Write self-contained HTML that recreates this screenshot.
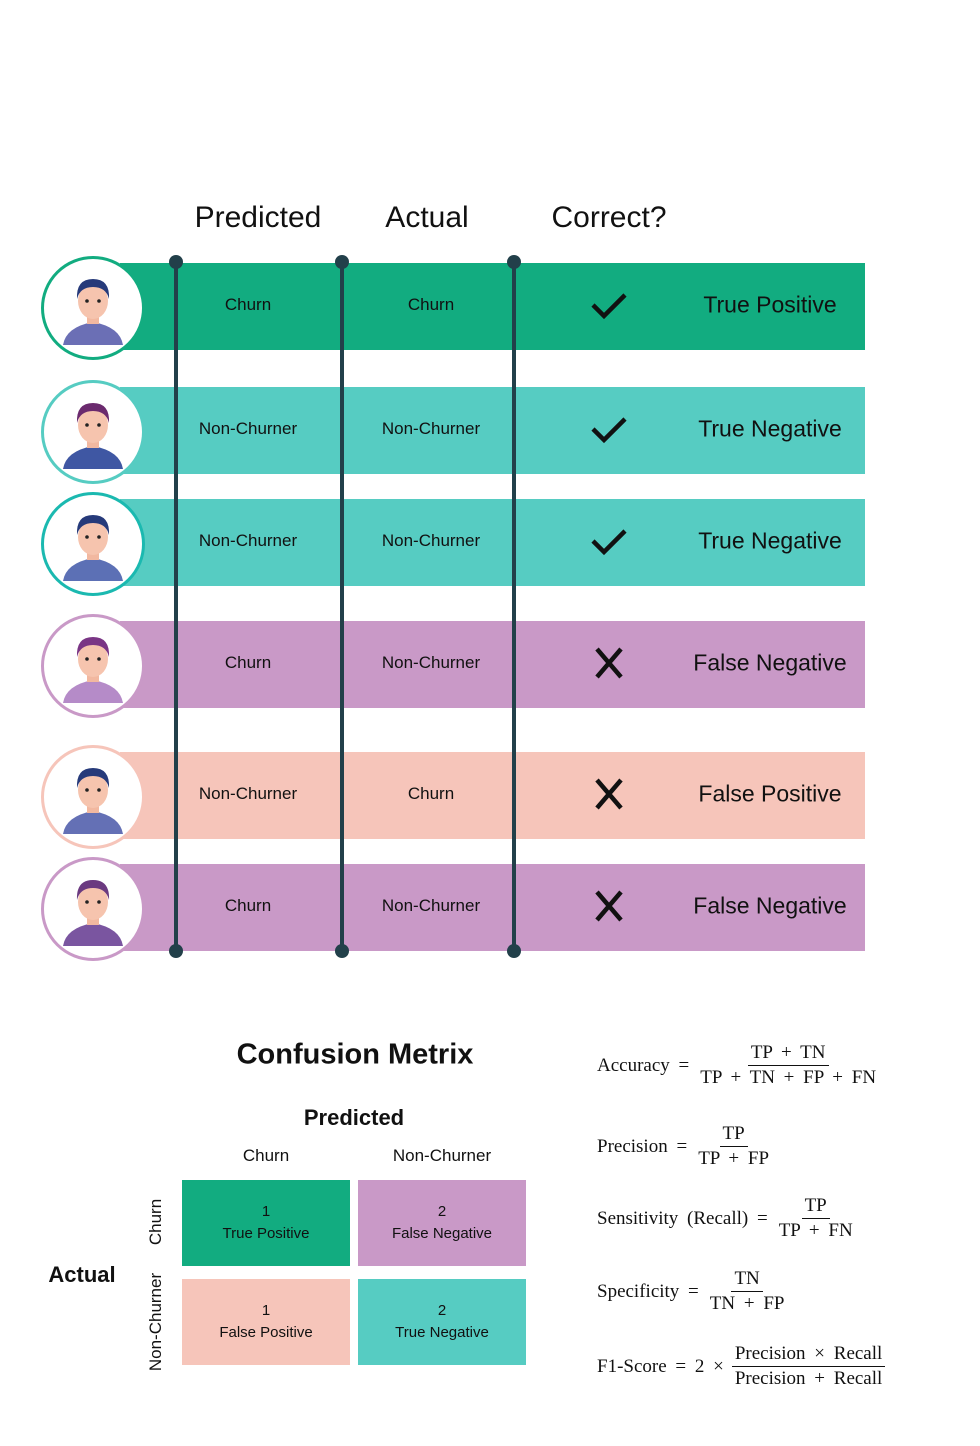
<!DOCTYPE html>
<html><head><meta charset="utf-8">
<style>
body{margin:0;background:#fff;}
#root{position:relative;width:980px;height:1446px;overflow:hidden;font-family:"Liberation Sans","DejaVu Sans",sans-serif;color:#111;}
.abs{position:absolute;}
.ctr{transform:translate(-50%,-50%);white-space:nowrap;}
.f{position:absolute;font-family:"Liberation Serif",serif;font-size:19px;color:#111;display:flex;align-items:center;white-space:nowrap;word-spacing:4px;}
.frac{display:inline-flex;flex-direction:column;align-items:center;margin-left:8px;}
.frac .n{padding:0 3px 1px;border-bottom:1.2px solid #111;}
.frac .d{padding:1px 3px 0;}
</style></head><body>
<div id="root">
<div class="abs ctr" style="left:258px;top:218px;font-size:30px;">Predicted</div>
<div class="abs ctr" style="left:427px;top:218px;font-size:30px;">Actual</div>
<div class="abs ctr" style="left:609px;top:218px;font-size:30px;">Correct?</div>
<div id="rows"></div>
<svg id="lines" class="abs" style="left:0;top:0;" width="980" height="1000"></svg>

<div class="abs ctr" style="left:355px;top:1055px;font-size:29px;font-weight:bold;">Confusion Metrix</div>
<div class="abs ctr" style="left:354px;top:1118px;font-size:22px;font-weight:bold;">Predicted</div>
<div class="abs ctr" style="left:266px;top:1156px;font-size:17px;">Churn</div>
<div class="abs ctr" style="left:442px;top:1156px;font-size:17px;">Non-Churner</div>
<div class="abs ctr" style="left:82px;top:1275px;font-size:22px;font-weight:bold;">Actual</div>
<div class="abs ctr" style="left:156px;top:1222px;font-size:17px;transform:translate(-50%,-50%) rotate(-90deg);">Churn</div>
<div class="abs ctr" style="left:156px;top:1322px;font-size:17px;transform:translate(-50%,-50%) rotate(-90deg);">Non-Churner</div>
<div id="cells"></div>

<div class="f" style="left:597px;top:1042px;">Accuracy =<span class="frac"><span class="n">TP + TN</span><span class="d">TP + TN + FP + FN</span></span></div>
<div class="f" style="left:597px;top:1123px;">Precision =<span class="frac"><span class="n">TP</span><span class="d">TP + FP</span></span></div>
<div class="f" style="left:597px;top:1195px;">Sensitivity (Recall) =<span class="frac"><span class="n">TP</span><span class="d">TP + FN</span></span></div>
<div class="f" style="left:597px;top:1268px;">Specificity =<span class="frac"><span class="n">TN</span><span class="d">TN + FP</span></span></div>
<div class="f" style="left:597px;top:1343px;">F1-Score = 2 ×<span class="frac"><span class="n">Precision × Recall</span><span class="d">Precision + Recall</span></span></div>
</div>
<script>
const predicted=["Churn","Non-Churner","Non-Churner","Churn","Non-Churner","Churn"];
const actual=["Churn","Non-Churner","Non-Churner","Non-Churner","Churn","Non-Churner"];
const outcome=["True Positive","True Negative","True Negative","False Negative","False Positive","False Negative"];
const rowTops=[263,387,499,621,752,864];
const colors={"True Positive":"#12ac80","True Negative":"#56ccc2","False Negative":"#c999c7","False Positive":"#f6c5ba"};
const ring={"True Positive":"#12ac80","True Negative":"#56ccc2","False Negative":"#c999c7","False Positive":"#f6c5ba"};
const hair=["#263a7a","#6b2a6e","#263a7a","#7a3585","#263a7a","#6b3a80"];
const shirt=["#6b6fb5","#3f57a3","#5c70b5","#b58bc8","#6470b5","#7a55a0"];
const rows=document.getElementById('rows');
for(let i=0;i<predicted.length;i++){
  const t=rowTops[i],c=colors[outcome[i]],cy=t+42;
  const band=document.createElement('div');
  band.className='abs';band.style.cssText=`left:120px;top:${t}px;width:745px;height:87px;background:${c};`;
  
  
  rows.appendChild(band);
  const av=document.createElement('div');
  av.className='abs';
  av.style.cssText=`left:41px;top:${t-7}px;width:98px;height:98px;border:3px solid ${i==2?'#1bb9b0':ring[outcome[i]]};border-radius:50%;background:#fff;`;
  av.innerHTML=`<svg width="98" height="98" viewBox="0 0 98 98"><path d="M19 86 Q22 68 49 63 Q76 68 79 86 Z" fill="${shirt[i]}"/><rect x="43" y="53" width="12" height="12" fill="#f2b8a0"/><ellipse cx="49" cy="42" rx="15" ry="18" fill="#f6c4ae"/><path d="M33 40 Q32 20 49 20 Q66 20 65 40 Q62 28 49 28 Q36 28 33 40 Z" fill="${hair[i]}"/><circle cx="43" cy="42" r="1.8" fill="#222"/><circle cx="55" cy="42" r="1.8" fill="#222"/></svg>`;
  
  
  rows.appendChild(av);
  const mk=(x,txt,size,name)=>{const d=document.createElement('div');d.className='abs ctr';d.style.cssText=`left:${x}px;top:${cy}px;font-size:${size}px;`;d.textContent=txt;
    
    
    rows.appendChild(d);};
  mk(248,predicted[i],17,'predicted-value');
  mk(431,actual[i],17,'actual-value');
  mk(770,outcome[i],23,'outcome-label');
  const ok=predicted[i]===actual[i];
  const ic=document.createElement('div');ic.className='abs';ic.style.cssText=`left:589px;top:${cy-20}px;`;
  ic.innerHTML=ok?'<svg width="40" height="40"><path d="M4 20 L15 31 L36 10" stroke="#111" stroke-width="4.5" fill="none"/></svg>':'<svg width="40" height="40"><path d="M8 6 L32 34 M32 6 L8 34" stroke="#111" stroke-width="4.5"/></svg>';
  
  
  rows.appendChild(ic);
}
const lineX=[176,342,514];
const svg=document.getElementById('lines');let s='';
for(const x of lineX){s+=`<line x1="${x}" y1="262" x2="${x}" y2="951" stroke="#22404a" stroke-width="4"/><circle cx="${x}" cy="262" r="7" fill="#22404a"/><circle cx="${x}" cy="951" r="7" fill="#22404a"/>`;}
svg.innerHTML=s;
const cellCounts=[1,2,1,2];
const cellLabels=["True Positive","False Negative","False Positive","True Negative"];
const cellsEl=document.getElementById('cells');
for(let k=0;k<4;k++){
  const x=k%2?358:182,y=k<2?1180:1279;
  const d=document.createElement('div');d.className='abs';
  d.style.cssText=`left:${x}px;top:${y}px;width:168px;height:86px;background:${colors[cellLabels[k]]};display:flex;flex-direction:column;align-items:center;justify-content:center;font-size:15px;line-height:22px;`;
  d.innerHTML=`<div>${cellCounts[k]}</div><div>${cellLabels[k]}</div>`;
  
  
  cellsEl.appendChild(d);
}
</script>
</body></html>
